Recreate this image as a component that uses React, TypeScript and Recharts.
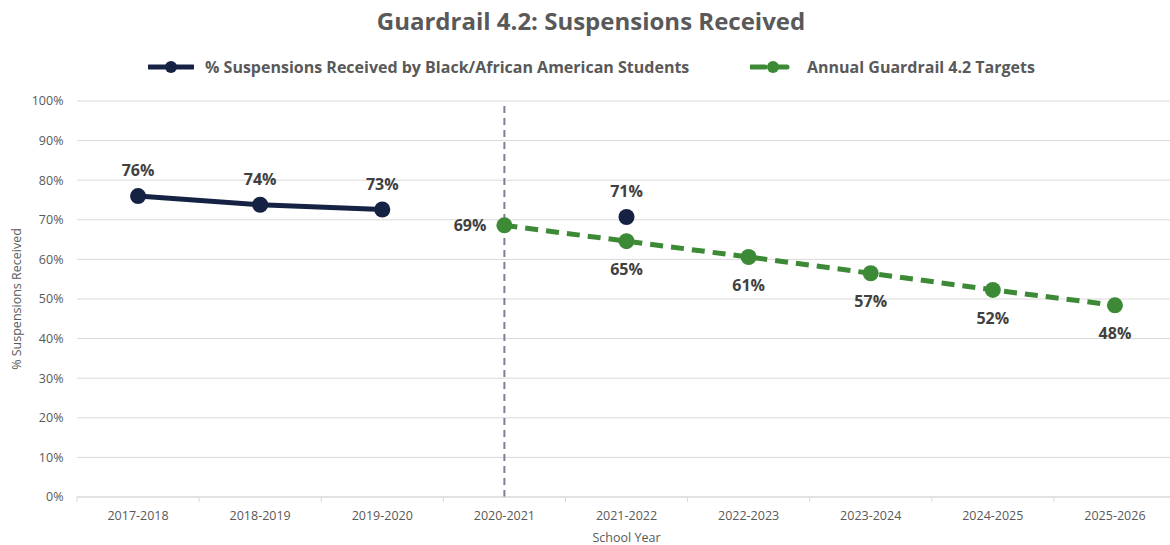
import React from 'react'
import {
  LineChart,
  Line,
  XAxis,
  YAxis,
  CartesianGrid,
  ReferenceLine,
  LabelList,
  Label,
} from 'recharts'

const years = [
  '2017-2018',
  '2018-2019',
  '2019-2020',
  '2020-2021',
  '2021-2022',
  '2022-2023',
  '2023-2024',
  '2024-2025',
  '2025-2026',
]
const blackStudents = [76.0, 73.8, 72.6, null, 70.7, null, null, null, null]
const targets = [null, null, null, 68.6, 64.6, 60.6, 56.5, 52.3, 48.4]
const yTicks = [0, 10, 20, 30, 40, 50, 60, 70, 80, 90, 100]

const baselineYear = '2020-2021'

const NAVY = '#162244'
const GREEN = '#3d8a36'
const GREY_TEXT = '#595959'
const LABEL_TEXT = '#404040'
const GRID = '#d9d9d9'
const FONT = "'Open Sans', sans-serif"

const CHART_W = 1176
const CHART_H = 545
const Y_AXIS_W = 77
const PLOT_W = CHART_W - Y_AXIS_W
const BAND = PLOT_W / years.length

const data = years.map((year, i) => ({
  year,
  black: blackStudents[i],
  target: targets[i],
}))

function YearTick(props: any) {
  const { x, y, payload } = props
  return (
    <g>
      <line x1={x - BAND / 2} x2={x - BAND / 2} y1={y} y2={y + 5} stroke={GRID} />
      <text
        x={x}
        y={y + 22.5}
        textAnchor="middle"
        fill={GREY_TEXT}
        fontSize={12.5}
        fontFamily={FONT}
      >
        {payload.value}
      </text>
    </g>
  )
}

function BlackLabel(props: any) {
  const { x, y, value } = props
  if (value == null) return null
  return (
    <text
      x={x}
      y={y - 26}
      textAnchor="middle"
      dominantBaseline="central"
      fill={LABEL_TEXT}
      fontSize={16}
      fontWeight="bold"
      fontFamily={FONT}
    >
      {Math.round(value)}%
    </text>
  )
}

function TargetLabel(props: any) {
  const { x, y, value, index } = props
  if (value == null) return null
  const first = index === years.indexOf(baselineYear)
  return (
    <text
      x={first ? x - 18 : x}
      y={first ? y : y + 28}
      textAnchor={first ? 'end' : 'middle'}
      dominantBaseline="central"
      fill={LABEL_TEXT}
      fontSize={16}
      fontWeight="bold"
      fontFamily={FONT}
    >
      {Math.round(value)}%
    </text>
  )
}

function YTitle(props: any) {
  const { viewBox } = props
  const cy = viewBox.y + viewBox.height / 2
  return (
    <text
      x={16}
      y={cy}
      transform={`rotate(-90 16 ${cy})`}
      textAnchor="middle"
      dominantBaseline="central"
      fill={GREY_TEXT}
      fontSize={12.5}
      fontFamily={FONT}
    >
      % Suspensions Received
    </text>
  )
}

function LegendItem({ color, dashed, label }: { color: string; dashed?: boolean; label: string }) {
  return (
    <div style={{ display: 'flex', alignItems: 'center' }}>
      <svg width={46} height={14} style={{ marginRight: 11 }}>
        <line
          x1={1}
          x2={45}
          y1={7}
          y2={7}
          stroke={color}
          strokeWidth={5}
          strokeLinecap="round"
          strokeDasharray={dashed ? '14 8' : undefined}
        />
        <circle cx={23} cy={7} r={6} fill={color} />
      </svg>
      <span>{label}</span>
    </div>
  )
}

export default function App() {
  return (
    <div
      style={{
        position: 'absolute',
        left: 0,
        top: 0,
        width: 1170,
        height: CHART_H,
        overflow: 'hidden',
        background: '#fff',
        fontFamily: FONT,
      }}
    >
      <div
        style={{
          position: 'absolute',
          left: 0,
          top: 4,
          width: 1182,
          textAlign: 'center',
          fontSize: 24,
          fontWeight: 'bold',
          color: GREY_TEXT,
          lineHeight: '34px',
        }}
      >
        Guardrail 4.2: Suspensions Received
      </div>
      <div
        style={{
          position: 'absolute',
          top: 56,
          left: 0,
          width: 1170,
          height: 20,
          fontSize: 16,
          fontWeight: 'bold',
          color: GREY_TEXT,
        }}
      >
        <div style={{ position: 'absolute', left: 148, top: 0 }}>
          <LegendItem color={NAVY} label="% Suspensions Received by Black/African American Students" />
        </div>
        <div style={{ position: 'absolute', left: 750, top: 0 }}>
          <LegendItem color={GREEN} dashed label="Annual Guardrail 4.2 Targets" />
        </div>
      </div>
      <LineChart
        width={CHART_W}
        height={CHART_H}
        data={data}
        margin={{ top: 101, right: 0, left: 0, bottom: 0 }}
      >
        <CartesianGrid horizontal vertical={false} stroke={GRID} />
        <XAxis
          dataKey="year"
          scale="band"
          height={48}
          tickSize={0}
          tickMargin={0}
          tickLine={false}
          axisLine={{ stroke: GRID }}
          tick={<YearTick />}
          interval={0}
        >
          <Label
            value="School Year"
            position="insideBottom"
            offset={3}
            fill={GREY_TEXT}
            fontSize={12.5}
            fontFamily={FONT}
          />
        </XAxis>
        <YAxis
          width={Y_AXIS_W}
          domain={[0, 100]}
          ticks={yTicks}
          tickFormatter={(v: number) => `${v}%`}
          axisLine={false}
          tickLine={false}
          tickMargin={7.5}
          tick={{ fill: GREY_TEXT, fontSize: 12.5, fontFamily: FONT }}
        >
          <Label content={<YTitle />} />
        </YAxis>
        <ReferenceLine
          x={baselineYear}
          stroke="#7c7f98"
          strokeWidth={2}
          strokeDasharray="7 5"
        />
        <Line
          dataKey="black"
          stroke={NAVY}
          strokeWidth={5}
          dot={{ r: 8, fill: NAVY, stroke: NAVY, strokeWidth: 0 }}
          connectNulls={false}
          isAnimationActive={false}
        >
          <LabelList dataKey="black" content={<BlackLabel />} />
        </Line>
        <Line
          dataKey="target"
          stroke={GREEN}
          strokeWidth={5}
          strokeDasharray="13 8"
          dot={{ r: 8, fill: GREEN, stroke: GREEN, strokeWidth: 0, strokeDasharray: '0' }}
          connectNulls={false}
          isAnimationActive={false}
        >
          <LabelList dataKey="target" content={<TargetLabel />} />
        </Line>
      </LineChart>
    </div>
  )
}
